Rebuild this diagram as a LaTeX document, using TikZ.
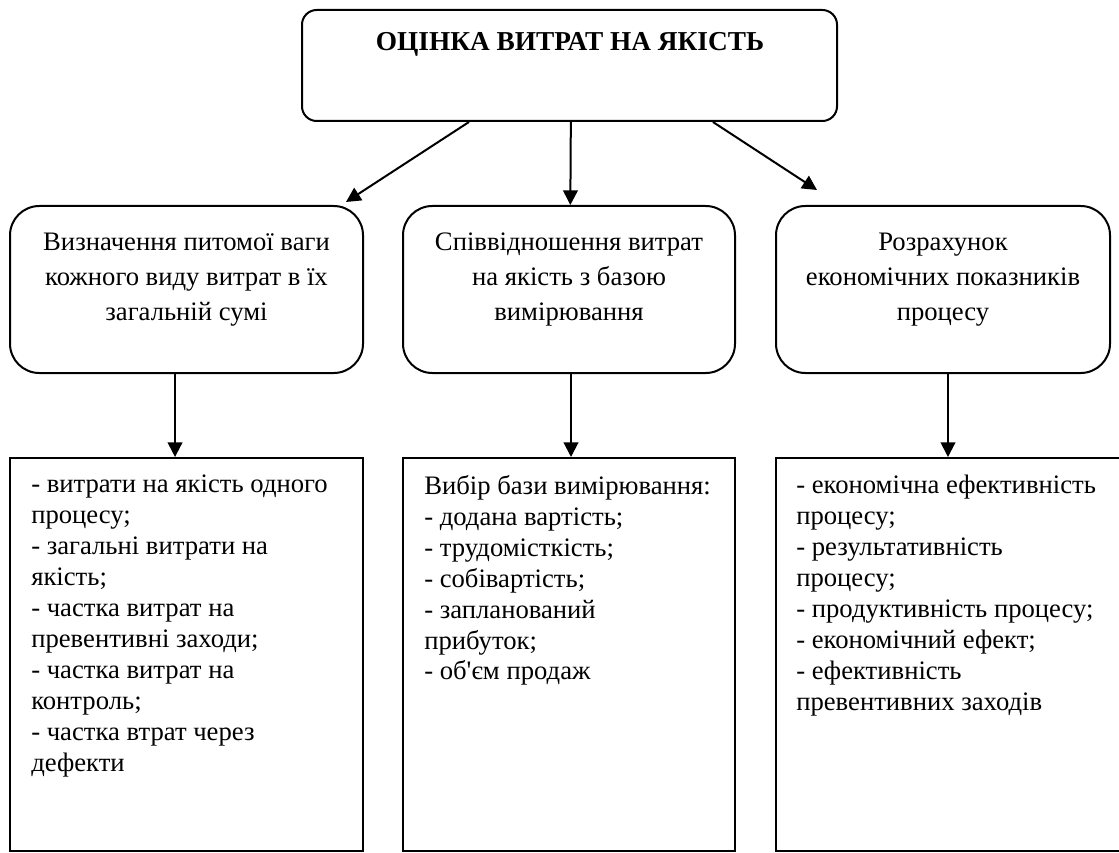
\documentclass[tikz,border=0pt]{standalone}
\usepackage{fontspec}
\setmainfont{Liberation Serif}
\usetikzlibrary{arrows.meta}

\begin{document}
\begin{tikzpicture}[x=0.75pt, y=-0.75pt,
    topbox/.style={draw, line width=1.5pt, rounded corners=11pt, minimum width=401.25pt, minimum height=83.25pt},
    midbox/.style={draw, line width=1.5pt, rounded corners=22pt, minimum height=125.25pt},
    lowbox/.style={draw, line width=1.5pt, minimum height=294.75pt},
    midtext/.style={align=center, font=\fontsize{20}{26.25}\selectfont},
    listtext/.style={align=left, anchor=north west, inner sep=0pt, font=\fontsize{20}{23.2}\selectfont},
    arr/.style={line width=1.5pt, -{Triangle[length=11pt, width=11pt]}}]

    \useasboundingbox (0,0) rectangle (1119,852);

    % Top box
    \node[topbox] (top) at (569.5,65.5) {};
    \node[font=\bfseries\fontsize{20.5}{22}\selectfont] (title) at (570,44) {ОЦІНКА ВИТРАТ НА ЯКІСТЬ};

    % Middle row
    \node[midbox, minimum width=264.75pt] (mid1) at (186.5,289.5) {};
    \node[midbox, minimum width=249pt] (mid2) at (569,289.5) {};
    \node[midbox, minimum width=250.5pt] (mid3) at (943,289.5) {};

    \node[midtext] (midt1) at (186.5,280) {Визначення питомої ваги\\кожного виду витрат в їх\\загальній сумі};
    \node[midtext] (midt2) at (569,280) {Співвідношення витрат\\на якість з базою\\вимірювання};
    \node[midtext] (midt3) at (943,280) {Розрахунок\\економічних показників\\процесу};

    % Bottom row
    \node[lowbox, minimum width=264.75pt] (low1) at (186.5,654.5) {};
    \node[lowbox, minimum width=249pt] (low2) at (569,654.5) {};
    \node[lowbox, minimum width=259.5pt] (low3) at (949,654.5) {};

    \node[listtext] (list1) at ([xshift=16.5pt, yshift=-13.5pt]low1.north west) {- витрати на якість одного\\процесу;\\- загальні витрати на\\якість;\\- частка витрат на\\превентивні заходи;\\- частка витрат на\\контроль;\\- частка втрат через\\дефекти};
    \node[listtext] (list2) at ([xshift=16.5pt, yshift=-13.5pt]low2.north west) {Вибір бази вимірювання:\\- додана вартість;\\- трудомісткість;\\- собівартість;\\- запланований\\прибуток;\\- об\textquotesingle єм продаж};
    \node[listtext] (list3) at ([xshift=15.75pt, yshift=-13.5pt]low3.north west) {- економічна ефективність\\процесу;\\- результативність\\процесу;\\- продуктивність процесу;\\- економічний ефект;\\- ефективність\\превентивних заходів};

    % Arrows
    \draw[arr] ([xshift=-75.4pt]top.south) -- ([xshift=-13.5pt, yshift=2.25pt]mid1.north east);
    \draw[arr] ([xshift=1pt]top.south) -- ([xshift=1pt]mid2.north);
    \draw[arr] ([xshift=107.6pt]top.south) -- ([xshift=31.5pt, yshift=11.25pt]mid3.north west);

    \draw[arr] ([xshift=-8.6pt]mid1.south) -- ([xshift=-8.6pt]low1.north);
    \draw[arr] ([xshift=1.5pt]mid2.south) -- ([xshift=1.5pt]low2.north);
    \draw[arr] ([xshift=3.75pt]mid3.south) -- ([xshift=3.75pt]mid3.south |- low3.north);

\end{tikzpicture}
\end{document}
